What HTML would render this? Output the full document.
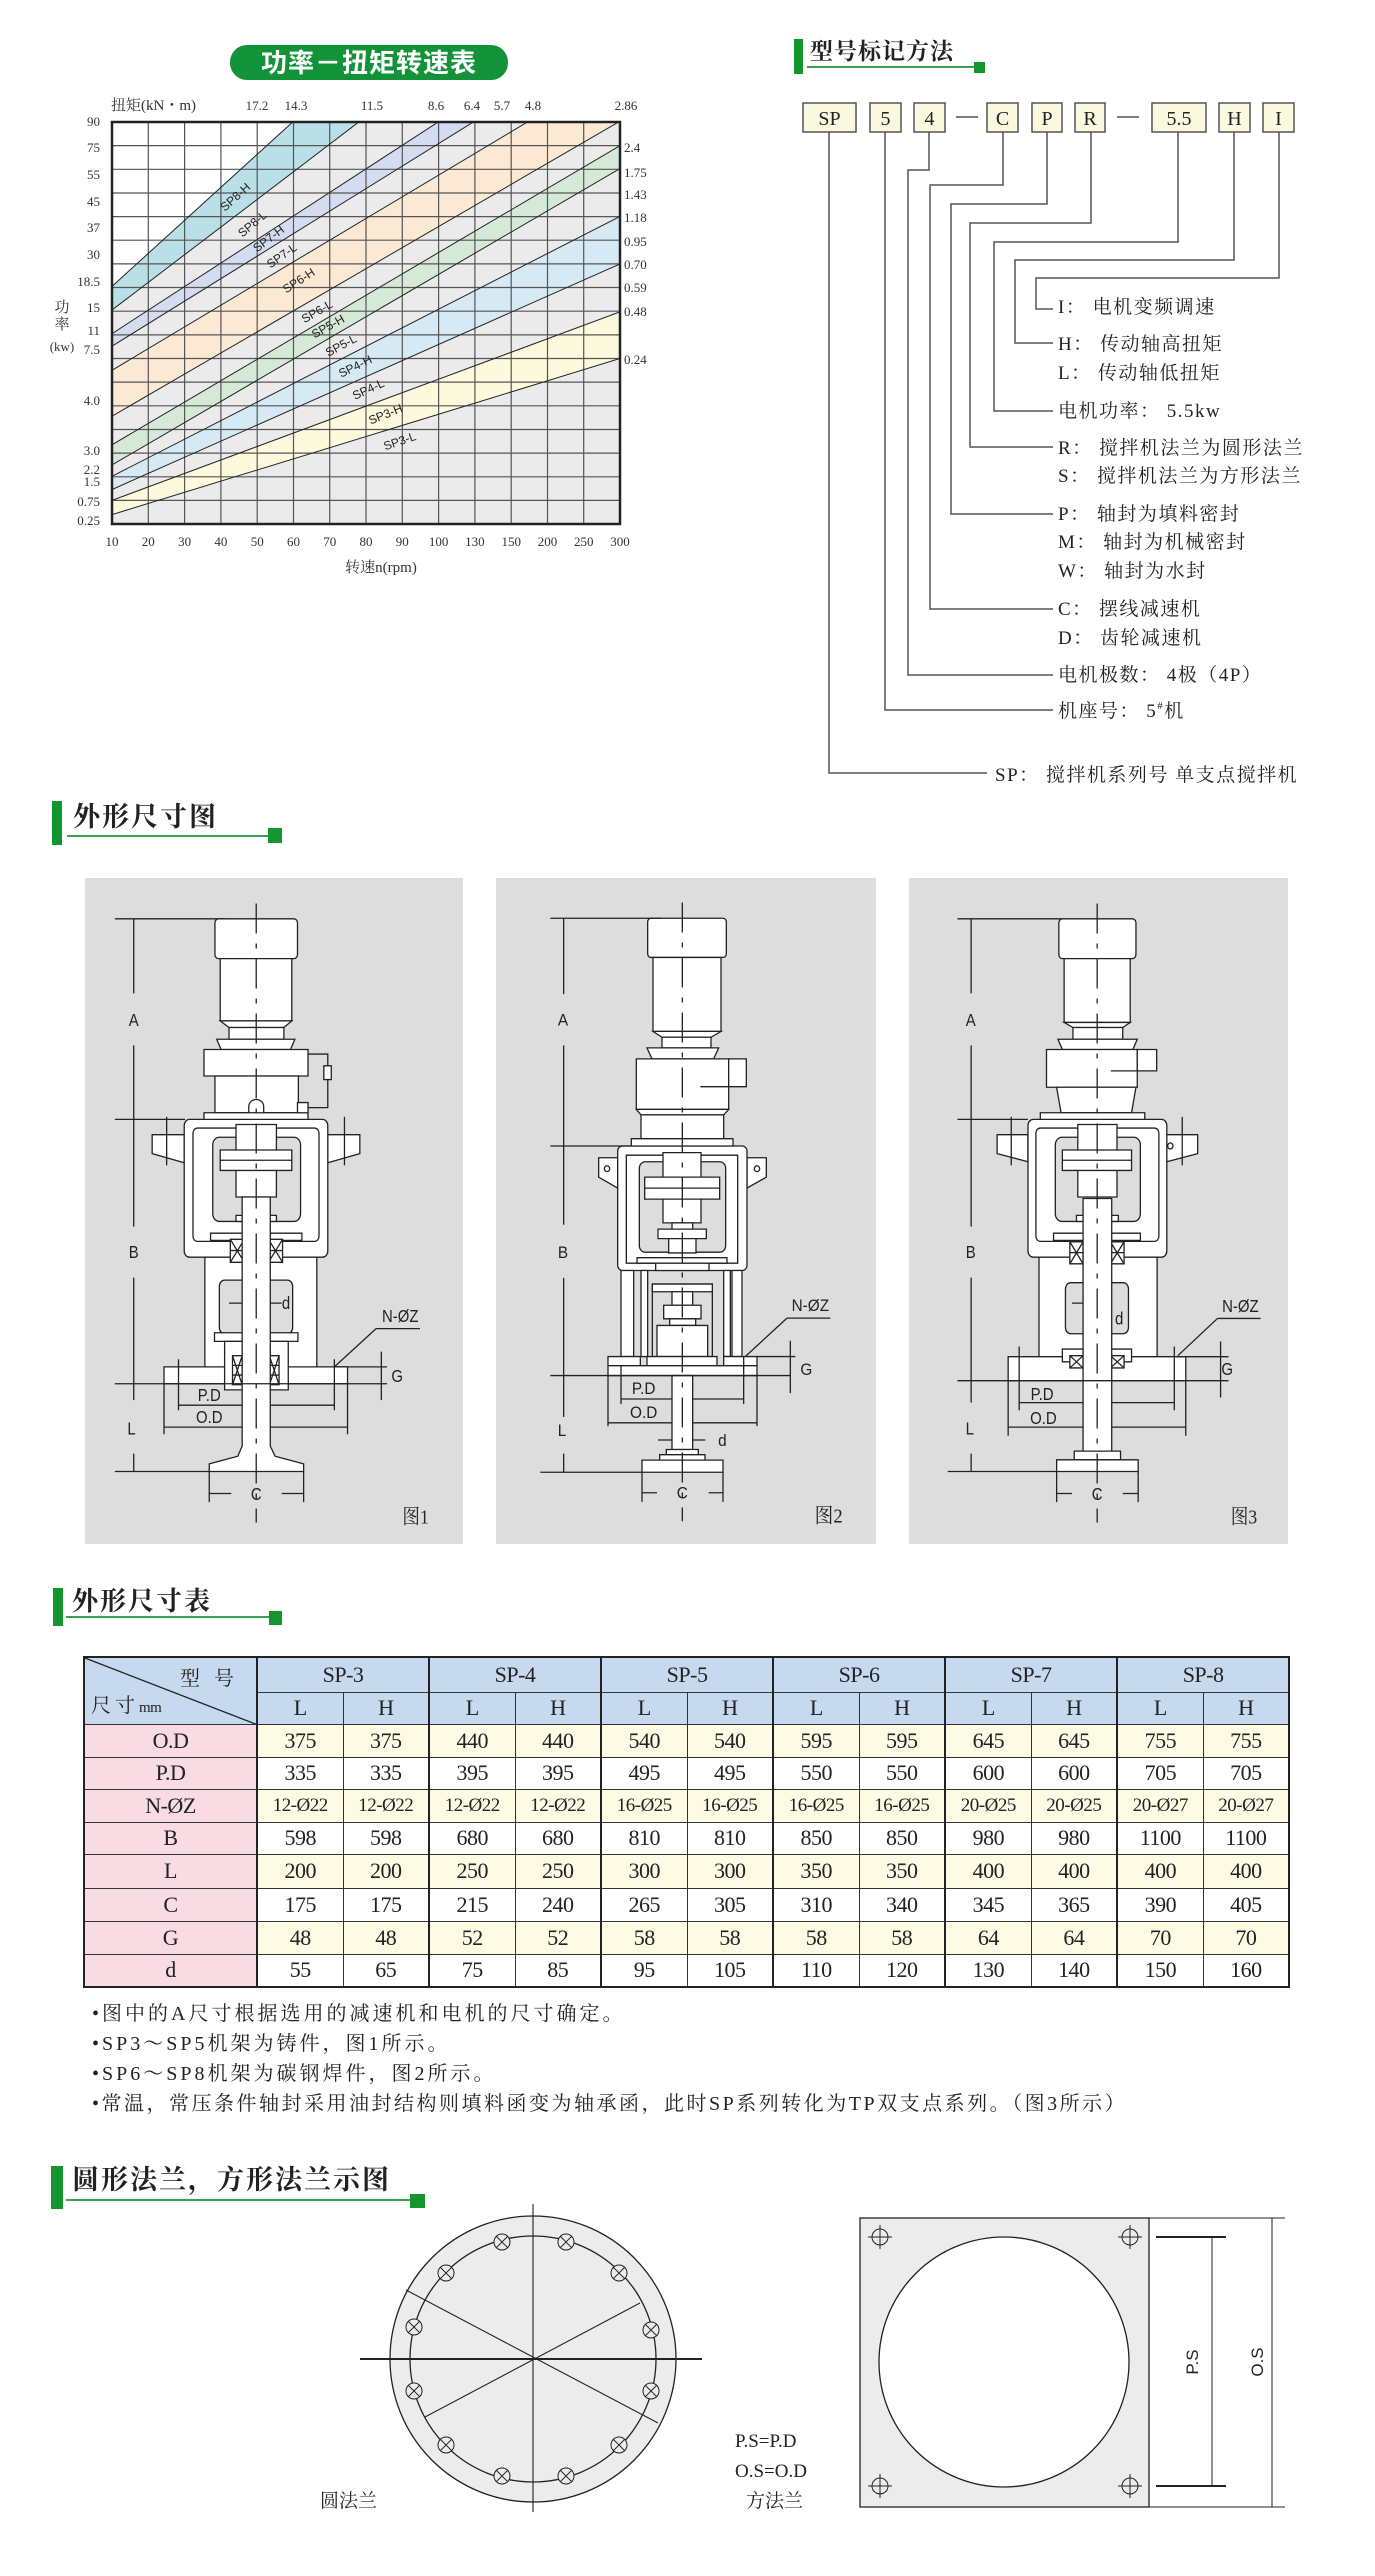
<!DOCTYPE html>
<html><head><meta charset="utf-8">
<style>
*{margin:0;padding:0;box-sizing:border-box}
body{width:1375px;height:2576px;background:#fff;position:relative;overflow:hidden;font-family:"Liberation Serif","Noto Serif CJK SC",serif;color:#222}
.abs{position:absolute}
.hbar{position:absolute;background:#14962f}
.hline{position:absolute;height:2px;background:#3aa050}
.hsq{position:absolute;background:#14962f}
.htxt{position:absolute;font-size:25px;font-weight:bold;white-space:nowrap;line-height:1;color:#222}
table{border-collapse:collapse;table-layout:fixed;position:absolute;left:83px;top:1656px;width:1205px}
td{border:1px solid #333;text-align:center;font-size:22px;font-family:"Liberation Serif","Noto Serif CJK SC",serif;padding:0;white-space:nowrap;overflow:hidden;letter-spacing:-0.5px}
td.h{background:#c7d9ee}
td.k{background:#f9dbe3}
tr.y td{background:#fefbe4}
tr.y td.k{background:#f9dbe3}
.gl{border-left:2px solid #222}
.note{position:absolute;left:92px;font-size:20px;letter-spacing:3px;white-space:nowrap;line-height:1}
.panel{position:absolute;background:#dddddd}
.s{fill:#fff;stroke:#222;stroke-width:1.3;vector-effect:non-scaling-stroke}
.g{fill:#dddddd;stroke:#222;stroke-width:1.3;vector-effect:non-scaling-stroke}
.l{fill:none;stroke:#222;stroke-width:1.3;vector-effect:non-scaling-stroke}
.c{fill:none;stroke:#222;stroke-width:1.3;stroke-dasharray:30 10 5 10;vector-effect:non-scaling-stroke}
.t{font-family:"Liberation Sans",sans-serif;fill:#222}
</style></head><body>

<!-- ======= CHART ======= -->
<svg class="abs" style="left:0;top:0" width="690" height="600" viewBox="0 0 690 600">
<rect x="230" y="45" width="278" height="35" rx="17" fill="#129339"/>
<text x="369" y="72" text-anchor="middle" font-size="26" font-weight="bold" fill="#fff" font-family="Liberation Sans,Noto Sans CJK SC,sans-serif" letter-spacing="1">功率－扭矩转速表</text>
<defs><clipPath id="gc"><rect x="112" y="122" width="508" height="402"/></clipPath></defs>
<g clip-path="url(#gc)">
<rect x="112" y="122" width="508" height="402" fill="#ebebeb"/>
<polygon points="112,122 292.7,122 112,286.4" fill="#fff"/>
<polygon points="112,286.4 292.7,122 358.8,122 112,310" fill="#b9e0e6"/>
<polygon points="112,333.7 438.2,122 473.4,122 112,346.2" fill="#d3dcf0"/>
<polygon points="112,370.3 527.5,122 620,122 620,122 112,416.2" fill="#fbe9d3"/>
<polygon points="112,444.8 620,145.7 620,168.6 112,464.9" fill="#d5e9d7"/>
<polygon points="112,476.3 620,216.4 620,263.9 112,489.5" fill="#d5eaf5"/>
<polygon points="112,500.4 620,311.9 620,358.5 112,514.6" fill="#fdf9dc"/>
<g stroke="#555" stroke-width="1.2">
<line x1="148.3" y1="122" x2="148.3" y2="524"/><line x1="184.6" y1="122" x2="184.6" y2="524"/><line x1="220.9" y1="122" x2="220.9" y2="524"/><line x1="257.2" y1="122" x2="257.2" y2="524"/><line x1="293.5" y1="122" x2="293.5" y2="524"/><line x1="329.7" y1="122" x2="329.7" y2="524"/><line x1="366" y1="122" x2="366" y2="524"/><line x1="402.3" y1="122" x2="402.3" y2="524"/><line x1="438.6" y1="122" x2="438.6" y2="524"/><line x1="474.9" y1="122" x2="474.9" y2="524"/><line x1="511.2" y1="122" x2="511.2" y2="524"/><line x1="547.5" y1="122" x2="547.5" y2="524"/><line x1="583.7" y1="122" x2="583.7" y2="524"/>
<line x1="112" y1="145.6" x2="620" y2="145.6"/><line x1="112" y1="169.3" x2="620" y2="169.3"/><line x1="112" y1="193" x2="620" y2="193"/><line x1="112" y1="216.6" x2="620" y2="216.6"/><line x1="112" y1="240.2" x2="620" y2="240.2"/><line x1="112" y1="263.9" x2="620" y2="263.9"/><line x1="112" y1="287.5" x2="620" y2="287.5"/><line x1="112" y1="311.2" x2="620" y2="311.2"/><line x1="112" y1="334.9" x2="620" y2="334.9"/><line x1="112" y1="358.5" x2="620" y2="358.5"/><line x1="112" y1="382.1" x2="620" y2="382.1"/><line x1="112" y1="405.8" x2="620" y2="405.8"/><line x1="112" y1="429.5" x2="620" y2="429.5"/><line x1="112" y1="453.1" x2="620" y2="453.1"/><line x1="112" y1="476.8" x2="620" y2="476.8"/><line x1="112" y1="500.4" x2="620" y2="500.4"/>
</g>
<g stroke="#222" stroke-width="1">
<line x1="112" y1="286.4" x2="292.7" y2="122"/><line x1="112" y1="310" x2="358.8" y2="122"/><line x1="112" y1="333.7" x2="438.2" y2="122"/><line x1="112" y1="346.2" x2="473.4" y2="122"/><line x1="112" y1="370.3" x2="527.5" y2="122"/><line x1="112" y1="416.2" x2="618.6" y2="122"/><line x1="112" y1="444.8" x2="620" y2="145.7"/><line x1="112" y1="464.9" x2="620" y2="168.6"/><line x1="112" y1="476.3" x2="620" y2="216.4"/><line x1="112" y1="489.5" x2="620" y2="263.9"/><line x1="112" y1="500.4" x2="620" y2="311.9"/><line x1="112" y1="514.6" x2="620" y2="358.5"/>
</g>
</g>
<rect x="112" y="122" width="508" height="402" fill="none" stroke="#222" stroke-width="2.5"/>
<g font-family="Liberation Sans,sans-serif" font-size="12" fill="#222" text-anchor="middle">
<text transform="translate(238,200) rotate(-42)">SP8-H</text>
<text transform="translate(255,227) rotate(-40)">SP8-L</text>
<text transform="translate(271,242) rotate(-37)">SP7-H</text>
<text transform="translate(284,259) rotate(-35)">SP7-L</text>
<text transform="translate(301,284) rotate(-33)">SP6-H</text>
<text transform="translate(319,315) rotate(-30)">SP6-L</text>
<text transform="translate(330,330) rotate(-29)">SP5-H</text>
<text transform="translate(343,349) rotate(-28)">SP5-L</text>
<text transform="translate(357,370) rotate(-26)">SP4-H</text>
<text transform="translate(370,393) rotate(-25)">SP4-L</text>
<text transform="translate(387,418) rotate(-22)">SP3-H</text>
<text transform="translate(401,445) rotate(-19)">SP3-L</text>
</g>
<g font-family="Liberation Serif,Noto Serif CJK SC,serif" font-size="13" fill="#333">
<text x="111" y="110" font-size="15">扭矩(kN・m)</text>
<g text-anchor="middle"><text x="257" y="110">17.2</text><text x="296" y="110">14.3</text><text x="372" y="110">11.5</text><text x="436" y="110">8.6</text><text x="472" y="110">6.4</text><text x="502" y="110">5.7</text><text x="533" y="110">4.8</text><text x="626" y="110">2.86</text></g>
<g text-anchor="end"><text x="100" y="126">90</text><text x="100" y="152">75</text><text x="100" y="179">55</text><text x="100" y="206">45</text><text x="100" y="232">37</text><text x="100" y="259">30</text><text x="100" y="286">18.5</text><text x="100" y="312">15</text><text x="100" y="335">11</text><text x="100" y="354">7.5</text><text x="100" y="405">4.0</text><text x="100" y="455">3.0</text><text x="100" y="474">2.2</text><text x="100" y="486">1.5</text><text x="100" y="506">0.75</text><text x="100" y="525">0.25</text></g>
<text x="624" y="152">2.4</text><text x="624" y="177">1.75</text><text x="624" y="199">1.43</text><text x="624" y="222">1.18</text><text x="624" y="246">0.95</text><text x="624" y="269">0.70</text><text x="624" y="292">0.59</text><text x="624" y="316">0.48</text><text x="624" y="364">0.24</text>
<g text-anchor="middle"><text x="112" y="546">10</text><text x="148.3" y="546">20</text><text x="184.6" y="546">30</text><text x="220.9" y="546">40</text><text x="257.2" y="546">50</text><text x="293.5" y="546">60</text><text x="329.7" y="546">70</text><text x="366" y="546">80</text><text x="402.3" y="546">90</text><text x="438.6" y="546">100</text><text x="474.9" y="546">130</text><text x="511.2" y="546">150</text><text x="547.5" y="546">200</text><text x="583.7" y="546">250</text><text x="620" y="546">300</text>
<text x="381" y="572" font-size="15">转速n(rpm)</text>
<text x="62" y="312" font-size="15">功</text><text x="62" y="329" font-size="15">率</text><text x="62" y="351" font-size="13">(kw)</text></g>
</g>
</svg>

<!-- ======= MODEL CODE ======= -->
<div class="hbar" style="left:794px;top:39px;width:9px;height:35px"></div>
<div class="htxt" style="left:810px;top:40px;font-size:23px;letter-spacing:1px">型号标记方法</div>
<div class="hline" style="left:807px;top:66px;width:168px"></div>
<div class="hsq" style="left:974px;top:62px;width:11px;height:11px"></div>
<svg class="abs" style="left:780px;top:90px" width="595" height="700" viewBox="780 90 595 700">
<g fill="#fbf8e0" stroke="#555" stroke-width="1.5">
<rect x="803" y="103" width="53" height="29"/><rect x="870" y="103" width="31" height="29"/><rect x="914" y="103" width="31" height="29"/><rect x="987" y="103" width="31" height="29"/><rect x="1032" y="103" width="30" height="29"/><rect x="1075" y="103" width="30" height="29"/><rect x="1152" y="103" width="54" height="29"/><rect x="1219" y="103" width="31" height="29"/><rect x="1263" y="103" width="31" height="29"/>
</g>
<g font-size="20" text-anchor="middle" fill="#222" font-family="Liberation Serif,serif">
<text x="829.5" y="125">SP</text><text x="885.5" y="125">5</text><text x="929.5" y="125">4</text><text x="1002.5" y="125">C</text><text x="1047" y="125">P</text><text x="1090" y="125">R</text><text x="1179" y="125">5.5</text><text x="1234.5" y="125">H</text><text x="1278.5" y="125">I</text>
</g>
<g fill="none" stroke="#555" stroke-width="1.5">
<line x1="956" y1="117" x2="978" y2="117"/><line x1="1117" y1="117" x2="1139" y2="117"/>
<polyline points="829,132 829,773 987,773"/>
<polyline points="885,132 885,710 1053,710"/>
<polyline points="929,132 929,170 908,170 908,675 1053,675"/>
<polyline points="1003,132 1003,185 930,185 930,609 1053,609"/>
<polyline points="1047,132 1047,204 951,204 951,514 1053,514"/>
<polyline points="1091,132 1091,223 970,223 970,447 1053,447"/>
<polyline points="1178,132 1178,242 994,242 994,411 1053,411"/>
<polyline points="1234,132 1234,260 1015,260 1015,343 1053,343"/>
<polyline points="1279,132 1279,278 1036,278 1036,309 1053,309"/>
</g>
<g font-size="19" fill="#222" font-family="Liberation Serif,Noto Serif CJK SC,serif" letter-spacing="1.5">
<text x="1058" y="313">I：  电机变频调速</text>
<text x="1058" y="350">H：  传动轴高扭矩</text>
<text x="1058" y="379">L：  传动轴低扭矩</text>
<text x="1058" y="417">电机功率：  5.5kw</text>
<text x="1058" y="454">R：  搅拌机法兰为圆形法兰</text>
<text x="1058" y="482">S：  搅拌机法兰为方形法兰</text>
<text x="1058" y="520">P：  轴封为填料密封</text>
<text x="1058" y="548">M：  轴封为机械密封</text>
<text x="1058" y="577">W：  轴封为水封</text>
<text x="1058" y="615">C：  摆线减速机</text>
<text x="1058" y="644">D：  齿轮减速机</text>
<text x="1058" y="681">电机极数：  4极（4P）</text>
<text x="1058" y="717">机座号：  5<tspan font-size="11" dy="-8">#</tspan><tspan dy="8">机</tspan></text>
<text x="995" y="781">SP：  搅拌机系列号  单支点搅拌机</text>
</g>
</svg>

<!-- ======= 外形尺寸图 header ======= -->
<div class="hbar" style="left:52px;top:801px;width:10px;height:44px"></div>
<div class="htxt" style="left:73px;top:804px;font-size:27px;letter-spacing:2px">外形尺寸图</div>
<div class="hline" style="left:67px;top:835px;width:202px"></div>
<div class="hsq" style="left:268px;top:828px;width:14px;height:15px"></div>

<!-- Panel 1 -->
<div class="panel" style="left:85px;top:878px;width:378px;height:666px"></div>
<svg class="abs" style="left:85px;top:878px" width="378" height="666" viewBox="192 172 861 1305" preserveAspectRatio="none">
<polygon class="s" points="418,675 345,675 345,712 418,730"/><polygon class="s" points="745,675 818,675 818,712 745,730"/>
<line class="l" x1="378" y1="640" x2="378" y2="735"/><line class="l" x1="783" y1="640" x2="783" y2="735"/>
<rect class="s" x="418" y="645" width="327" height="270" rx="12"/>
<rect class="l" x="438" y="662" width="287" height="222" rx="10"/>
<rect class="g" x="483" y="680" width="200" height="165" rx="15"/>
<rect class="s" x="465" y="915" width="255" height="225"/>
<rect class="g" x="498" y="960" width="167" height="105" rx="12"/>
<rect class="s" x="372" y="1130" width="418" height="33"/>
<rect class="s" x="487" y="1063" width="190" height="17"/>
<rect class="s" x="510" y="1080" width="145" height="95"/>
<rect class="s" x="528" y="1108" width="22" height="57"/><path class="l" d="M528,1108 L550,1165 M550,1108 L528,1165 M528,1127 h22 M528,1146 h22"/>
<rect class="s" x="612" y="1108" width="22" height="57"/><path class="l" d="M612,1108 L634,1165 M634,1108 L612,1165 M612,1127 h22 M612,1146 h22"/>
<rect class="s" x="478" y="868" width="208" height="14"/>
<rect class="s" x="523" y="880" width="32" height="45"/><path class="l" d="M523,880 L555,925 M555,880 L523,925 M523,902 h32"/>
<rect class="s" x="610" y="880" width="32" height="45"/><path class="l" d="M610,880 L642,925 M642,880 L610,925 M610,902 h32"/>
<rect class="s" x="536" y="655" width="92" height="142"/>
<rect class="s" x="500" y="705" width="163" height="40"/><line class="l" x1="500" y1="725" x2="663" y2="725"/>
<rect class="s" x="536" y="833" width="92" height="12"/>
<path class="s" d="M550,797 L550,1285 L540,1305 L475,1320 L475,1335 L690,1335 L690,1320 L625,1305 L614,1285 L614,797 Z"/>
<rect class="s" x="488" y="252" width="188" height="78" rx="8"/>
<rect class="s" x="500" y="330" width="163" height="122"/>
<polygon class="s" points="500,452 663,452 645,465 520,465"/>
<rect class="s" x="520" y="465" width="125" height="23"/>
<polygon class="s" points="492,488 670,488 660,508 502,508"/>
<rect class="s" x="463" y="508" width="237" height="52"/>
<rect class="s" x="488" y="560" width="190" height="72"/>
<path class="s" d="M565,632 v-12 a17,14 0 0 1 34,0 v12"/>
<rect class="s" x="463" y="632" width="237" height="13"/>
<polyline class="l" points="700,517 745,517 745,540"/><rect class="s" x="736" y="540" width="17" height="27"/><polyline class="l" points="745,567 745,622 700,622"/><rect class="s" x="676" y="612" width="24" height="20"/>
<line class="c" x1="582" y1="222" x2="582" y2="1435"/>
<path class="l" d="M260,252 H510 M260,645 H420 M260,1163 H880 M260,1335 H475 M303,252 V398 M303,500 V855 M303,955 V1195 M303,1300 V1335 M405,1115 V1215 M760,1115 V1215 M405,1205 H550 M614,1205 H760 M372,1163 V1262 M790,1163 V1262 M372,1248 H550 M614,1248 H790 M760,1130 H880 M867,1100 V1195 M855,1055 H955 M855,1055 L760,1130 M475,1335 V1395 M690,1335 V1395 M475,1378 H525 M640,1378 H690 M520,1005 H550 M614,1005 H640"/>
<g class="t" font-size="34" text-anchor="middle"><text x="303" y="462">A</text><text x="303" y="917">B</text><text x="298" y="1262">L</text><text x="582" y="1391">C</text><text x="650" y="1017">d</text><text x="910" y="1042">N-ØZ</text><text x="903" y="1160">G</text><text x="475" y="1197">P.D</text><text x="475" y="1240">O.D</text></g>
<text x="945" y="1437" font-size="40" text-anchor="middle" font-family="Liberation Serif,Noto Serif CJK SC,serif" fill="#222">图1</text>
</svg>

<!-- Panel 2 -->
<div class="panel" style="left:496px;top:878px;width:380px;height:666px"></div>
<svg class="abs" style="left:497px;top:878px" width="379" height="666" viewBox="0 33 1137 1819" preserveAspectRatio="none">
<polygon class="s" points="362,797 305,797 305,850 362,880"/><circle class="l" cx="330" cy="827" r="8"/>
<polygon class="s" points="750,797 808,797 808,850 750,880"/><circle class="l" cx="780" cy="827" r="8"/>
<rect class="s" x="362" y="765" width="388" height="340" rx="14"/>
<rect class="l" x="388" y="790" width="334" height="295"/>
<rect class="g" x="427" y="808" width="259" height="247" rx="18"/>
<rect class="s" x="420" y="1070" width="270" height="15"/><rect class="s" x="476" y="1085" width="160" height="20"/>
<rect class="s" x="498" y="783" width="114" height="192"/>
<rect class="s" x="443" y="850" width="225" height="60"/><line class="l" x1="443" y1="880" x2="668" y2="880"/>
<rect class="s" x="525" y="975" width="62" height="17"/><rect class="s" x="483" y="992" width="145" height="26"/><rect class="s" x="515" y="1018" width="82" height="39"/>
<rect class="s" x="372" y="1105" width="38" height="235"/><rect class="s" x="432" y="1105" width="20" height="235"/><rect class="s" x="680" y="1105" width="20" height="235"/><rect class="s" x="705" y="1105" width="30" height="235"/>
<rect class="g" x="466" y="1142" width="180" height="198"/><rect class="s" x="466" y="1142" width="180" height="21"/>
<rect class="s" x="525" y="1163" width="62" height="37"/><rect class="s" x="500" y="1200" width="112" height="37"/><rect class="s" x="518" y="1237" width="78" height="18"/><rect class="s" x="480" y="1255" width="152" height="85"/>
<rect class="s" x="333" y="1340" width="97" height="25"/><rect class="s" x="450" y="1340" width="210" height="25"/><rect class="s" x="680" y="1340" width="100" height="25"/>
<rect class="s" x="333" y="1365" width="447" height="27"/>
<rect class="s" x="525" y="1392" width="62" height="202"/>
<rect class="s" x="508" y="1594" width="96" height="14"/><rect class="s" x="488" y="1608" width="136" height="15"/><rect class="s" x="435" y="1623" width="243" height="33"/>
<rect class="s" x="452" y="143" width="236" height="107" rx="10"/>
<rect class="s" x="468" y="250" width="204" height="202"/>
<polygon class="s" points="468,452 672,452 642,468 495,468"/>
<rect class="s" x="495" y="468" width="147" height="29"/>
<polygon class="s" points="450,497 665,497 650,527 465,527"/>
<rect class="s" x="418" y="527" width="277" height="138"/><rect class="s" x="695" y="527" width="53" height="76"/><line class="l" x1="610" y1="603" x2="695" y2="603"/>
<polygon class="s" points="418,665 695,665 680,680 432,680"/>
<rect class="s" x="432" y="680" width="248" height="65"/>
<rect class="s" x="403" y="745" width="305" height="20"/>
<line class="c" x1="556" y1="100" x2="556" y2="1790"/>
<path class="l" d="M160,143 H495 M160,765 H400 M160,1392 H880 M130,1656 H435 M200,143 V350 M200,490 V980 M200,1125 V1505 M200,1605 V1656 M372,1365 V1470 M740,1340 V1470 M372,1456 H525 M587,1456 H740 M333,1392 V1530 M780,1392 V1530 M333,1521 H525 M587,1521 H780 M780,1340 H895 M880,1297 V1440 M870,1235 H1000 M870,1235 L745,1340 M483,1568 H525 M587,1568 H625 M435,1656 V1737 M678,1656 V1737 M435,1712 H480 M635,1712 H678"/>
<g class="t" font-size="46" text-anchor="middle"><text x="198" y="436">A</text><text x="198" y="1071">B</text><text x="195" y="1557">L</text><text x="556" y="1728">C</text><text x="676" y="1584">d</text><text x="940" y="1216">N-ØZ</text><text x="928" y="1390">G</text><text x="440" y="1443">P.D</text><text x="440" y="1508">O.D</text></g>
<text x="995" y="1793" font-size="56" text-anchor="middle" font-family="Liberation Serif,Noto Serif CJK SC,serif" fill="#222">图2</text>
</svg>

<!-- Panel 3 -->
<div class="panel" style="left:909px;top:878px;width:379px;height:666px"></div>
<svg class="abs" style="left:909px;top:878px" width="379" height="666" viewBox="510 172 860 1305" preserveAspectRatio="none">
<polygon class="s" points="780,675 710,675 710,712 780,728"/><polygon class="s" points="1095,675 1165,675 1165,712 1095,728"/>
<line class="l" x1="742" y1="640" x2="742" y2="735"/><line class="l" x1="1130" y1="640" x2="1130" y2="735"/><circle class="l" cx="1103" cy="697" r="6"/>
<rect class="s" x="780" y="645" width="315" height="270" rx="12"/>
<rect class="l" x="798" y="662" width="279" height="222" rx="10"/>
<rect class="g" x="842" y="680" width="193" height="165" rx="15"/>
<rect class="s" x="805" y="915" width="268" height="200"/>
<rect class="g" x="865" y="965" width="143" height="100" rx="12"/>
<rect class="s" x="735" y="1110" width="403" height="47"/>
<rect class="s" x="858" y="1095" width="157" height="25"/>
<rect class="s" x="875" y="1108" width="30" height="24"/><path class="l" d="M875,1108 L905,1132 M905,1108 L875,1132"/>
<rect class="s" x="967" y="1108" width="31" height="24"/><path class="l" d="M967,1108 L998,1132 M998,1108 L967,1132"/>
<rect class="s" x="838" y="868" width="197" height="14"/>
<rect class="s" x="875" y="885" width="30" height="43"/><path class="l" d="M875,885 L905,928 M905,885 L875,928 M875,906 h30"/>
<rect class="s" x="967" y="885" width="31" height="43"/><path class="l" d="M967,885 L998,928 M998,885 L967,928 M967,906 h31"/>
<rect class="s" x="893" y="655" width="89" height="142"/>
<rect class="s" x="858" y="705" width="157" height="40"/><line class="l" x1="858" y1="725" x2="1015" y2="725"/>
<rect class="s" x="890" y="833" width="95" height="12"/>
<rect class="s" x="905" y="800" width="65" height="495"/>
<rect class="s" x="885" y="1295" width="105" height="17"/><rect class="s" x="845" y="1312" width="185" height="23"/>
<rect class="s" x="850" y="252" width="175" height="78" rx="8"/>
<rect class="s" x="862" y="330" width="150" height="125"/>
<polygon class="s" points="862,455 1012,455 995,465 882,465"/>
<rect class="s" x="882" y="465" width="113" height="23"/>
<polygon class="s" points="848,488 1028,488 1018,508 858,508"/>
<rect class="s" x="822" y="508" width="206" height="74"/><rect class="s" x="1028" y="508" width="44" height="42"/><line class="l" x1="968" y1="550" x2="1028" y2="550"/>
<polygon class="s" points="845,582 1025,582 1015,632 855,632"/>
<rect class="s" x="808" y="632" width="237" height="13"/>
<line class="c" x1="937" y1="222" x2="937" y2="1435"/>
<path class="l" d="M620,252 H860 M620,645 H780 M620,1157 H1235 M598,1335 H845 M651,252 V398 M651,500 V855 M651,955 V1200 M651,1300 V1335 M760,1090 V1215 M1112,1090 V1215 M760,1200 H905 M970,1200 H1112 M735,1157 V1265 M1138,1157 V1265 M735,1248 H905 M970,1248 H1138 M1115,1110 H1235 M1217,1080 V1190 M1210,1035 H1308 M1210,1035 L1120,1108 M845,1335 V1395 M1030,1335 V1395 M845,1378 H880 M995,1378 H1030 M880,1005 H905"/>
<g class="t" font-size="34" text-anchor="middle"><text x="650" y="462">A</text><text x="650" y="917">B</text><text x="648" y="1262">L</text><text x="937" y="1391">C</text><text x="987" y="1047">d</text><text x="1262" y="1022">N-ØZ</text><text x="1232" y="1146">G</text><text x="812" y="1195">P.D</text><text x="815" y="1242">O.D</text></g>
<text x="1270" y="1437" font-size="40" text-anchor="middle" font-family="Liberation Serif,Noto Serif CJK SC,serif" fill="#222">图3</text>
</svg>

<!-- ======= TABLE ======= -->
<div class="hbar" style="left:53px;top:1588px;width:10px;height:38px"></div>
<div class="htxt" style="left:72px;top:1589px;font-size:26px;letter-spacing:2px">外形尺寸表</div>
<div class="hline" style="left:66px;top:1616px;width:205px"></div>
<div class="hsq" style="left:269px;top:1611px;width:13px;height:14px"></div>

<table style="border:2px solid #222">
<colgroup><col style="width:173px"><col span="12" style="width:86px"></colgroup>
<tr style="height:35px"><td class="h" rowspan="2" style="position:relative;text-align:left"><svg style="position:absolute;left:0;top:0" width="173" height="67"><line x1="0" y1="0" x2="173" y2="67" stroke="#222" stroke-width="1.3"/></svg><span style="position:absolute;right:8px;top:4px;font-size:20px;letter-spacing:14px">型号</span><span style="position:absolute;left:6px;bottom:6px;font-size:20px">尺 寸 <span style="font-size:15px">mm</span></span></td>
<td class="h gl" colspan="2">SP-3</td><td class="h gl" colspan="2">SP-4</td><td class="h gl" colspan="2">SP-5</td><td class="h gl" colspan="2">SP-6</td><td class="h gl" colspan="2">SP-7</td><td class="h gl" colspan="2">SP-8</td></tr>
<tr style="height:32px"><td class="h gl">L</td><td class="h">H</td><td class="h gl">L</td><td class="h">H</td><td class="h gl">L</td><td class="h">H</td><td class="h gl">L</td><td class="h">H</td><td class="h gl">L</td><td class="h">H</td><td class="h gl">L</td><td class="h">H</td></tr>
<tr class="y" style="height:33px"><td class="k">O.D</td><td class="gl">375</td><td>375</td><td class="gl">440</td><td>440</td><td class="gl">540</td><td>540</td><td class="gl">595</td><td>595</td><td class="gl">645</td><td>645</td><td class="gl">755</td><td>755</td></tr>
<tr style="height:32px"><td class="k">P.D</td><td class="gl">335</td><td>335</td><td class="gl">395</td><td>395</td><td class="gl">495</td><td>495</td><td class="gl">550</td><td>550</td><td class="gl">600</td><td>600</td><td class="gl">705</td><td>705</td></tr>
<tr class="y" style="height:33px;font-size:19px"><td class="k">N-ØZ</td><td class="gl" style="font-size:19px">12-Ø22</td><td style="font-size:19px">12-Ø22</td><td class="gl" style="font-size:19px">12-Ø22</td><td style="font-size:19px">12-Ø22</td><td class="gl" style="font-size:19px">16-Ø25</td><td style="font-size:19px">16-Ø25</td><td class="gl" style="font-size:19px">16-Ø25</td><td style="font-size:19px">16-Ø25</td><td class="gl" style="font-size:19px">20-Ø25</td><td style="font-size:19px">20-Ø25</td><td class="gl" style="font-size:19px">20-Ø27</td><td style="font-size:19px">20-Ø27</td></tr>
<tr style="height:32px"><td class="k">B</td><td class="gl">598</td><td>598</td><td class="gl">680</td><td>680</td><td class="gl">810</td><td>810</td><td class="gl">850</td><td>850</td><td class="gl">980</td><td>980</td><td class="gl">1100</td><td>1100</td></tr>
<tr class="y" style="height:34px"><td class="k">L</td><td class="gl">200</td><td>200</td><td class="gl">250</td><td>250</td><td class="gl">300</td><td>300</td><td class="gl">350</td><td>350</td><td class="gl">400</td><td>400</td><td class="gl">400</td><td>400</td></tr>
<tr style="height:33px"><td class="k">C</td><td class="gl">175</td><td>175</td><td class="gl">215</td><td>240</td><td class="gl">265</td><td>305</td><td class="gl">310</td><td>340</td><td class="gl">345</td><td>365</td><td class="gl">390</td><td>405</td></tr>
<tr class="y" style="height:33px"><td class="k">G</td><td class="gl">48</td><td>48</td><td class="gl">52</td><td>52</td><td class="gl">58</td><td>58</td><td class="gl">58</td><td>58</td><td class="gl">64</td><td>64</td><td class="gl">70</td><td>70</td></tr>
<tr style="height:33px"><td class="k">d</td><td class="gl">55</td><td>65</td><td class="gl">75</td><td>85</td><td class="gl">95</td><td>105</td><td class="gl">110</td><td>120</td><td class="gl">130</td><td>140</td><td class="gl">150</td><td>160</td></tr>
</table>

<div class="note" style="top:2004px">•图中的A尺寸根据选用的减速机和电机的尺寸确定。</div>
<div class="note" style="top:2034px">•SP3～SP5机架为铸件，图1所示。</div>
<div class="note" style="top:2064px">•SP6～SP8机架为碳钢焊件，图2所示。</div>
<div class="note" style="top:2094px;letter-spacing:2.5px">•常温，常压条件轴封采用油封结构则填料函变为轴承函，此时SP系列转化为TP双支点系列。（图3所示）</div>

<!-- ======= FLANGES ======= -->
<div class="hbar" style="left:51px;top:2166px;width:12px;height:43px"></div>
<div class="htxt" style="left:72px;top:2167px;font-size:27px;letter-spacing:2px">圆形法兰，方形法兰示图</div>
<div class="hline" style="left:66px;top:2199px;width:346px"></div>
<div class="hsq" style="left:410px;top:2194px;width:15px;height:14px"></div>

<svg class="abs" style="left:0;top:2190px" width="1375" height="386" viewBox="0 2190 1375 386">
<circle cx="533" cy="2359" r="143" fill="#ececec" stroke="#222" stroke-width="1.3"/>
<circle cx="533" cy="2359" r="123" fill="#ececec" stroke="#222" stroke-width="1.3"/>
<g stroke="#222" stroke-width="1.1" fill="none">
<line x1="406" y1="2290" x2="658" y2="2423"/><line x1="640" y1="2303" x2="425" y2="2417"/>
<line x1="533" y1="2204" x2="533" y2="2512"/>
</g>
<line x1="360" y1="2359" x2="702" y2="2359" stroke="#222" stroke-width="2"/>
<g stroke="#222" stroke-width="1" fill="#ececec">
<circle cx="502" cy="2242" r="8"/><circle cx="566" cy="2242" r="8"/><circle cx="446" cy="2273" r="8"/><circle cx="619" cy="2273" r="8"/><circle cx="414" cy="2327" r="8"/><circle cx="651" cy="2330" r="8"/><circle cx="414" cy="2391" r="8"/><circle cx="651" cy="2391" r="8"/><circle cx="446" cy="2445" r="8"/><circle cx="619" cy="2445" r="8"/><circle cx="502" cy="2476" r="8"/><circle cx="566" cy="2476" r="8"/>
</g>
<g stroke="#222" stroke-width="0.9">
<path d="M496,2236 l12,12 M508,2236 l-12,12 M560,2236 l12,12 M572,2236 l-12,12 M440,2267 l12,12 M452,2267 l-12,12 M613,2267 l12,12 M625,2267 l-12,12 M408,2321 l12,12 M420,2321 l-12,12 M645,2324 l12,12 M657,2324 l-12,12 M408,2385 l12,12 M420,2385 l-12,12 M645,2385 l12,12 M657,2385 l-12,12 M440,2439 l12,12 M452,2439 l-12,12 M613,2439 l12,12 M625,2439 l-12,12 M496,2470 l12,12 M508,2470 l-12,12 M560,2470 l12,12 M572,2470 l-12,12"/>
</g>
<rect x="860" y="2218" width="289" height="289" fill="#ececec" stroke="#222" stroke-width="1.3"/>
<circle cx="1004" cy="2362" r="125" fill="#fff" stroke="#222" stroke-width="1.3"/>
<g stroke="#222" stroke-width="1" fill="none">
<circle cx="880" cy="2237" r="8"/><circle cx="1130" cy="2237" r="8"/><circle cx="880" cy="2486" r="8"/><circle cx="1130" cy="2486" r="8"/>
<path d="M868,2237 h24 M880,2225 v24 M1118,2237 h24 M1130,2225 v24 M868,2486 h24 M880,2474 v24 M1118,2486 h24 M1130,2474 v24"/>
<path d="M1149,2218 H1285 M1149,2507 H1285 M1272,2218 V2507 M1156,2237 H1226 M1156,2486 H1226 M1212,2237 V2486"/>
</g>
<line x1="1156" y1="2237" x2="1226" y2="2237" stroke="#222" stroke-width="2"/><line x1="1156" y1="2486" x2="1226" y2="2486" stroke="#222" stroke-width="2"/>
<g font-family="Liberation Sans,sans-serif" font-size="17" fill="#222" text-anchor="middle">
<text transform="translate(1198,2362) rotate(-90)">P.S</text>
<text transform="translate(1263,2362) rotate(-90)">O.S</text>
</g>
<g font-family="Liberation Serif,Noto Serif CJK SC,serif" font-size="19" fill="#222">
<text x="320" y="2507">圆法兰</text>
<text x="735" y="2447">P.S=P.D</text>
<text x="735" y="2477">O.S=O.D</text>
<text x="746" y="2507">方法兰</text>
</g>
</svg>

</body></html>
